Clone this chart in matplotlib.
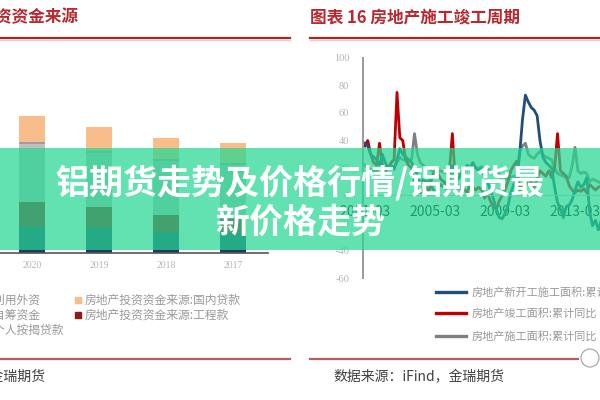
import numpy as np
import pandas as pd
import matplotlib
matplotlib.use("Agg")
import matplotlib.pyplot as plt
from matplotlib.patches import Rectangle, Ellipse
from matplotlib.lines import Line2D

plt.rcParams['font.family'] = ['Noto Sans CJK SC', 'DejaVu Sans']

# ---- left panel: funding sources (万亿元), stacked bottom -> top
years = ["2020", "2019", "2018", "2017"]
mortgage = [3.66, 3.52, 2.96, 2.82]      # 个人按揭贷款
project_pay = [3.52, 2.96, 2.39, 2.25]   # 工程款
self_raised = [8.17, 7.61, 7.61, 7.32]   # 自筹资金
foreign = [0.28, 0.28, 0.28, 0.28]       # 利用外资
domestic = [3.66, 3.38, 2.96, 2.82]      # 国内贷款

# ---- right panel: cumulative yoy (%), bimonthly from 2001-03
new_start = [38, 36, 30, 28, 26,
             22, 30, 24, 20, 22, 19,
             26, 34, 30, 28, 26, 24,
             20, 15, 8, 12, 10, 11,
             6, 2, 5, 8, 6, 5,
             10, 22, 14, 12, 16, 18,
             22, 20, 24, 20, 18, 20,
             14, 10, 4, -2, -10, -16,
             -17, -13, -8, 2, 8, 12,
             30, 55, 73, 68, 64, 62,
             58, 40, 28, 24, 22, 20,
             6, -5, -10, -16, -8, -7,
             -3, 4, 10, 6, 8, 13,
             -12, -22, -18, -25, -18, -10,
             -14]
completed = [36, 40, 30, 24, 22,
             38, 22, 18, 20, 24, 26,
             75, 42, 40, 26, 22, 20,
             10, 4, 2, 4, 6, 3,
             14, 18, 16, 12, 10, 8,
             20, 45, 10, 6, 4, 5,
             2, 8, 6, 4, 6, 4,
             -2, 2, -4, -8, -10, -4,
             0, 4, 10, 18, 22, 25,
             4, 8, 10, 8, 10, 6,
             12, 18, 16, 14, 18, 13,
             20, 45, 18, 16, 14, 7,
             4, 2, 4, 3, 5, 2,
             8, 6, 4, 6, 7, 6,
             4]
under_constr = [22, 20, 19, 18, 18,
                20, 22, 21, 20, 21, 21,
                24, 28, 26, 26, 25, 26,
                45, 30, 24, 22, 20, 20,
                18, 16, 17, 18, 17, 16,
                12, 18, 16, 16, 17, 18,
                22, 20, 21, 20, 20, 21,
                16, 20, 18, 17, 16, 16,
                10, 12, 12, 13, 14, 13,
                32, 36, 38, 30, 28, 27,
                30, 32, 30, 28, 27, 26,
                20, 16, 15, 14, 13, 13,
                22, 35, 18, 16, 17, 16,
                10, 12, 11, 10, 9, 9,
                6]
dates = pd.date_range("2001-03-01", "2015-01-01", freq="2MS")
date_ticks = ["2001-03", "2005-03", "2009-03", "2013-03"]

W, H = 600, 400
def fx(x): return x / W
def fy(y): return 1 - y / H

fig = plt.figure(figsize=(6, 4), dpi=100)
fig.patch.set_facecolor("white")
tick_col = "#B4B4B4"

# ---------------- left bar chart
ax1 = fig.add_axes([0, fy(253), fx(268), 153 / H])
ax1.patch.set_alpha(0)
x = np.arange(len(years))
segs = [(mortgage, "#1F3864"), (project_pay, "#8B1A1A"), (self_raised, "#BFBFBF"),
        (foreign, "#A39AA6"), (domestic, "#F8BD8A")]
bottom = np.zeros(len(years))
for vals, col in segs:
    ax1.bar(x, vals, 0.4, bottom=bottom, color=col, zorder=2)
    bottom += np.array(vals)
ax1.set_xlim(-0.478, 3.522)
ax1.set_ylim(0, 153 / 7.1)
ax1.set_xticks(x)
ax1.set_xticklabels(years, family="Liberation Serif", fontsize=7, color=tick_col)
ax1.set_yticks([])
ax1.tick_params(axis="x", length=0, pad=6)
for s in ["top", "right", "left"]:
    ax1.spines[s].set_visible(False)
ax1.spines["bottom"].set_color("#555555")
ax1.spines["bottom"].set_linewidth(1.2)

# ---------------- right line chart
ax2 = fig.add_axes([fx(363), fy(278), fx(640 - 363), 220 / H])
ax2.patch.set_alpha(0)
ax2.plot(dates, under_constr, color="#7F7F7F", lw=2.0)
ax2.plot(dates, completed, color="#C00000", lw=2.0)
ax2.plot(dates, new_start, color="#1F4E79", lw=2.0)
ax2.set_ylim(-60, 100)
ax2.set_xlim(pd.Timestamp("2001-01-22"), pd.Timestamp("2016-11-15"))
ax2.set_yticks(range(-60, 101, 20))
ax2.set_yticklabels([str(v) for v in range(-60, 101, 20)],
                    family="Liberation Serif", fontsize=7.5, color=tick_col)
ax2.set_xticks([pd.Timestamp(d + "-01") for d in date_ticks])
ax2.set_xticklabels(date_ticks, family="Liberation Serif", fontsize=7.5, color=tick_col)
ax2.tick_params(axis="both", length=0)
ax2.tick_params(axis="y", pad=10)
ax2.tick_params(axis="x", pad=7)
ax2.spines["top"].set_visible(False)
ax2.spines["right"].set_visible(False)
ax2.spines["bottom"].set_position(("data", 0))
ax2.spines["bottom"].set_color("#C8C8C8")
ax2.spines["bottom"].set_linewidth(0.8)
ax2.spines["left"].set_color("#9A9A9A")
ax2.spines["left"].set_linewidth(1.4)

# ---------------- titles and rules
title_col = "#B8282E"
fig.text(fx(78), fy(17), "图表 15 房地产投资资金来源", ha="right", va="center",
         fontsize=12, weight="bold", color=title_col)
fig.text(fx(310), fy(18), "图表 16 房地产施工竣工周期", ha="left", va="center",
         fontsize=12, weight="bold", color=title_col)
for x0, x1 in [(0, 290), (310, 600)]:
    fig.add_artist(Line2D([fx(x0), fx(x1)], [fy(38), fy(38)], color="#9E2A2B", lw=1.6))
    fig.add_artist(Line2D([fx(x0), fx(x1)], [fy(40), fy(40)], color="#F2C9C9", lw=1.0))
for x0, x1 in [(0, 290), (310, 578)]:
    fig.add_artist(Line2D([fx(x0), fx(x1)], [fy(359), fy(359)], color="#BC5C5A", lw=1.6))
fig.add_artist(Ellipse((fx(590), fy(358)), 18 / W, 18 / H, facecolor="white",
                       edgecolor="#A0A0A0", lw=0.8))

# ---------------- legends
leg_col = "#999999"
bar_leg = [("房地产投资资金来源:利用外资", "#A39AA6", -125, 300),
           ("房地产投资资金来源:自筹资金", "#BFBFBF", -125, 315),
           ("房地产投资资金来源:个人按揭贷款", "#1F3864", -125, 330),
           ("房地产投资资金来源:国内贷款", "#F8BD8A", 75, 300),
           ("房地产投资资金来源:工程款", "#8B1A1A", 75, 315)]
for lab, col, lx, ly in bar_leg:
    fig.add_artist(Rectangle((fx(lx), fy(ly + 3)), 6 / W, 6 / H, color=col))
    fig.text(fx(lx + 10), fy(ly), lab, ha="left", va="center", fontsize=8.5, color=leg_col)

line_leg = [("房地产新开工施工面积:累计同比", "#1F4E79", 292),
            ("房地产竣工面积:累计同比", "#C00000", 313),
            ("房地产施工面积:累计同比", "#7F7F7F", 336)]
for lab, col, ly in line_leg:
    fig.add_artist(Line2D([fx(436), fx(466)], [fy(ly), fy(ly)], color=col, lw=2.4))
    fig.text(fx(472), fy(ly), lab, ha="left", va="center", fontsize=8, color=leg_col)

src = "数据来源：iFind，金瑞期货"
fig.text(fx(45), fy(377), src, ha="right", va="center", fontsize=10, color="#404040")
fig.text(fx(333), fy(377), src, ha="left", va="center", fontsize=10, color="#404040")

# ---------------- banner overlay
fig.add_artist(Rectangle((0, fy(250)), 1, 102 / H, transform=fig.transFigure,
                         facecolor="#25D892", alpha=0.72, zorder=5))
fig.text(0.5, fy(183), "铝期货走势及价格行情/铝期货最", ha="center", va="center",
         fontsize=24.5, weight="heavy", color="white", zorder=6)
fig.text(0.5, fy(222), "新价格走势", ha="center", va="center",
         fontsize=24.5, weight="heavy", color="white", zorder=6)

fig.savefig("out.png", dpi=100)
